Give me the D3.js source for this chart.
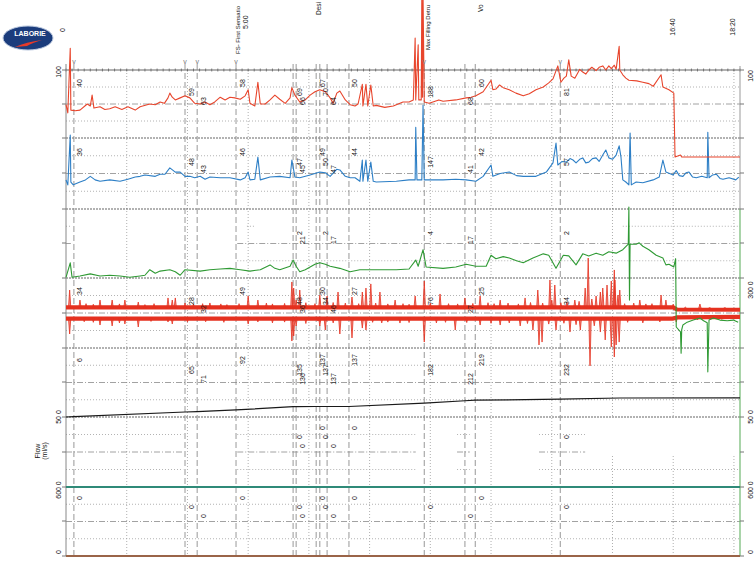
<!DOCTYPE html>
<html><head><meta charset="utf-8">
<script src="https://cdn.jsdelivr.net/npm/d3@7"></script>
<style>body{margin:0;background:#fff}svg{display:block}text{font-family:"Liberation Sans",Arial,sans-serif}</style>
</head><body><svg id="c" width="756" height="563"></svg>
<script>
// ---------- DATA ----------
const gridTimes = [100,200,300,400,500,600,700,800,900,1000,1100];
const timeLabelT = [0, 1000, 1100];
const timeLabelText = ["0", "16:40", "18:20"];
const eventTimes = [13,196,216,280,374,379,412,418,430,466,590,657,674,814];
const vMarkTimes = [13,196,216,280,590,814];
const ch1Labels = [40,59,63,58,69,66,67,70,64,50,188,68,60,81];
const ch2Labels = [36,48,43,46,47,45,49,50,47,44,147,41,42,57];
const ch3Labels = [null,null,null,null,2,21,null,2,17,null,4,17,null,2];
const ch4Labels = [34,28,32,49,48,36,30,34,46,27,76,27,25,34];
const ch5Labels = [6,65,71,92,135,136,137,137,137,137,182,212,219,232];
const ch6Labels = [null,null,null,null,0,0,0,0,0,0,null,null,null,0];
const ch7Labels = [0,0,0,0,0,0,0,0,0,0,0,0,0,0];
const noteTimes = [280, 280, 412, 590, 674];
const noteTexts = ["FS- First Sensatio", "5:00", "Desi", "Max Filling Detru", "Vo"];
const leftAxisText = ["100", "50 0", "600 0", "0"];
const rightAxisText = ["100", "300 0", "50 0", "600 0", "0"];

const pves = [[0,49],[3,37],[7,132],[8,41],[15,40],[23,41],[35,50],[40,47],[43,63],[46,44],[56,46],[64,42],[72,43],[81,46],[92,42],[102,46],[114,41],[122,46],[138,50],[147,49],[155,53],[162,51],[168,59],[171,66],[175,60],[180,56],[188,59],[196,62],[204,59],[212,51],[221,50],[229,53],[237,49],[245,53],[254,60],[262,56],[270,60],[278,59],[287,57],[295,62],[300,71],[303,51],[311,47],[316,82],[320,50],[328,50],[336,56],[344,63],[352,57],[361,51],[369,59],[372,74],[377,63],[385,53],[394,56],[402,63],[410,68],[418,71],[427,68],[435,59],[440,51],[446,66],[451,69],[460,56],[468,49],[476,47],[481,50],[488,79],[489,47],[494,79],[497,47],[502,78],[506,47],[511,48],[525,45],[539,47],[555,53],[565,53],[572,56],[575,147],[576,56],[580,137],[581,56],[585,56],[586,210],[587,60],[588,210],[590,53],[598,51],[614,56],[621,54],[642,56],[659,59],[667,60],[675,62],[687,68],[700,85],[703,71],[708,72],[714,78],[720,74],[730,71],[741,66],[753,62],[763,65],[774,71],[786,75],[795,81],[802,87],[810,106],[815,82],[820,88],[824,91],[828,115],[832,91],[838,88],[843,96],[846,101],[851,97],[856,94],[861,100],[866,104],[873,99],[878,104],[884,106],[889,100],[894,106],[898,102],[903,107],[906,101],[911,135],[912,100],[917,93],[922,88],[927,85],[940,84],[950,82],[960,80],[967,76],[980,93],[983,75],[993,71],[1001,66],[1003,-28],[1012,-25],[1014,-28],[1110,-28]];

const pabd = [[0,41],[3,34],[7,104],[8,38],[12,34],[23,38],[32,41],[40,46],[48,41],[56,39],[72,41],[89,39],[102,42],[114,45],[122,46],[130,48],[147,46],[155,49],[163,49],[171,58],[180,52],[188,52],[196,46],[204,46],[212,44],[221,46],[229,42],[237,45],[254,44],[270,44],[287,41],[295,44],[300,52],[303,41],[311,42],[316,73],[320,41],[336,45],[352,46],[369,44],[372,69],[377,45],[385,44],[402,48],[418,52],[427,51],[435,46],[446,56],[451,55],[460,46],[468,44],[476,44],[484,39],[488,69],[489,39],[494,69],[497,39],[502,66],[506,39],[511,38],[544,39],[565,41],[575,41],[576,115],[578,41],[586,41],[588,146],[590,41],[621,41],[642,42],[659,41],[675,39],[687,46],[700,62],[703,46],[715,50],[730,52],[742,47],[753,46],[774,46],[785,50],[791,52],[802,65],[807,93],[810,62],[817,67],[824,66],[830,71],[835,69],[840,65],[846,70],[851,72],[856,65],[861,66],[867,71],[873,72],[878,67],[884,76],[889,83],[894,72],[900,70],[906,76],[911,89],[914,73],[917,41],[922,38],[927,34],[929,107],[931,34],[939,38],[950,37],[967,41],[977,45],[983,69],[988,52],[1000,48],[1005,54],[1010,47],[1016,46],[1021,51],[1026,52],[1032,45],[1038,44],[1047,46],[1056,44],[1057,108],[1059,44],[1065,48],[1071,49],[1077,43],[1082,42],[1092,44],[1103,41],[1108,45]];

const pdet = [[0,1],[7,22],[10,1],[23,3],[40,6],[56,3],[72,4],[89,3],[105,1],[122,3],[130,4],[138,12],[147,7],[155,10],[171,12],[180,9],[188,4],[196,12],[221,10],[237,12],[254,13],[270,14],[287,12],[303,10],[320,12],[336,19],[344,14],[352,12],[369,17],[374,26],[379,17],[385,9],[394,12],[402,16],[410,20],[418,22],[427,20],[435,17],[451,14],[468,9],[484,12],[511,12],[544,12],[565,13],[576,26],[580,17],[588,41],[593,16],[621,14],[642,16],[659,20],[675,17],[692,17],[700,33],[708,28],[720,31],[730,29],[742,25],[753,22],[769,29],[786,35],[795,33],[807,14],[819,33],[828,32],[840,19],[851,35],[861,32],[873,36],[884,33],[894,38],[906,36],[917,41],[926,49],[927,103],[928,-32],[929,49],[939,49],[944,51],[950,46],[960,41],[972,33],[983,29],[988,19],[993,20],[1001,16],[1004,28],[1005,-71],[1012,-78],[1013,-109],[1014,-75],[1016,-68],[1023,-64],[1033,-61],[1044,-58],[1050,-62],[1056,-65],[1057,-136],[1059,-61],[1066,-58],[1077,-61],[1089,-62],[1099,-61],[1107,-64]];

// EMG: baseline envelope and individual spike peaks (upper and lower halves)
const emgUpperBase = [[0,48],[1000,48],[1006,30],[1110,28]];
const emgLowerBase = [[0,-48],[1000,-48],[1006,-38],[1110,-34]];
const emgUpperSpikes = [[6,197],[23,111],[33,80],[45,75],[56,111],[76,111],[88,78],[97,111],[119,94],[130,72],[145,80],[168,129],[175,111],[180,129],[196,86],[210,75],[225,80],[237,86],[255,78],[265,72],[285,80],[300,146],[316,111],[330,85],[340,78],[360,82],[372,266],[375,214],[379,111],[385,197],[395,88],[410,80],[418,154],[430,146],[440,90],[448,180],[460,85],[471,137],[482,80],[488,180],[494,214],[502,249],[510,85],[517,180],[530,78],[542,111],[555,80],[565,75],[575,146],[590,274],[600,85],[616,163],[630,80],[645,78],[657,129],[670,82],[682,146],[695,88],[705,80],[715,111],[728,85],[745,78],[756,129],[765,90],[777,197],[785,85],[797,283],[800,111],[805,240],[815,88],[825,95],[838,111],[845,100],[855,214],[860,471],[866,120],[873,146],[880,180],[884,214],[891,240],[898,274],[903,369],[904,283],[909,154],[912,197],[920,80],[935,85],[945,111],[955,78],[965,80],[980,154],[988,111],[1000,75],[1020,50],[1044,77],[1060,45],[1085,45]];
const emgLowerSpikes = [[6,-180],[30,-75],[45,-80],[56,-103],[76,-111],[88,-85],[97,-94],[119,-120],[140,-72],[168,-77],[175,-94],[200,-78],[230,-75],[260,-80],[300,-94],[316,-77],[340,-85],[360,-78],[372,-240],[375,-197],[379,-111],[395,-90],[415,-69],[418,-111],[427,-146],[440,-85],[451,-180],[471,-214],[488,-129],[494,-146],[505,-80],[520,-85],[530,-78],[550,-86],[565,-82],[590,-249],[610,-85],[625,-80],[641,-146],[660,-82],[682,-103],[700,-88],[715,-103],[730,-85],[748,-111],[760,-90],[769,-146],[779,-274],[784,-249],[795,-95],[807,-146],[820,-88],[830,-163],[840,-100],[847,-146],[863,-454],[870,-110],[880,-163],[888,-231],[898,-291],[903,-377],[906,-274],[911,-249],[925,-80],[950,-85],[978,-77],[1005,-77],[1040,-60],[1080,-55]];

const volume = [[0,0],[13,6],[196,65],[216,71],[280,92],[374,135],[379,136],[412,137],[430,137],[466,137],[590,182],[657,212],[674,219],[814,232],[912,248],[1110,250]];
const flow = [[0,0],[1110,0]];
const ch7Trace = [[0,0],[1110,0]];

// gridline segment overrides (seconds)
const ch3Seg = [[[0,8],[298,311],[917,1110]], [[0,8],[282,1110]], [[282,1110]]];
const ch6Seg = [[[0,193],[282,576],[644,665],[779,855]], [[0,193],[282,576],[644,665],[779,855]], [[0,193],[282,576],[644,665],[779,1110]]];

// ---------- LAYOUT ----------
const svg = d3.select("#c");
const x = d3.scaleLinear().domain([0,1110]).range([66,740]);
const tops = [70,138,209,278,348,417,487,556];
const yS = [
  d3.scaleLinear().domain([0,100]).range([138,70]),
  d3.scaleLinear().domain([0,100]).range([209,138]),
  d3.scaleLinear().domain([0,100]).range([278,209]),
  d3.scaleLinear().domain([-300,300]).range([348,278]),
  d3.scaleLinear().domain([0,900]).range([417,348]),
  d3.scaleLinear().domain([0,50]).range([487,417]),
  d3.scaleLinear().domain([0,600]).range([556,487])
];
const labelOff = [[13,22,31],[14,24,31],[15,24,31],[13,23,31],[12,22,31],[11,20,29],[11,20,29]];
const g = svg.append("g");

// vertical gridlines
gridTimes.forEach(t => {
  const segs = t >= 870 ? [[70,418],[456,556]] : [[70,556]];
  segs.forEach(s => g.append("line").attr("x1",x(t)).attr("x2",x(t)).attr("y1",s[0]).attr("y2",s[1])
    .attr("stroke","#9a9a9a").attr("stroke-width",0.8).attr("stroke-dasharray","1,2"));
});

// horizontal interior gridlines
for (let i = 0; i < 7; i++) {
  const t0 = tops[i], t1 = tops[i+1];
  [0.25,0.5,0.75].forEach((f,k) => {
    const y = t0 + f*(t1-t0);
    let segs = [[0,1110]];
    if (i === 2) segs = ch3Seg[k];
    if (i === 5) segs = ch6Seg[k];
    segs.forEach(s => g.append("line").attr("x1",x(s[0])).attr("x2",x(s[1])).attr("y1",y).attr("y2",y)
      .attr("stroke", k===1 ? "#8a8a8a" : "#a0a0a0").attr("stroke-width",0.8)
      .attr("stroke-dasharray", k===1 ? "6,2,1,2" : "1,2"));
  });
}
// channel boundaries
tops.slice(0,7).forEach((y,i) => {
  g.append("line").attr("x1",66).attr("x2",740).attr("y1",y).attr("y2",y)
    .attr("stroke","#666").attr("stroke-width",1.2).attr("stroke-dasharray", i===0 ? null : "2,1");
});
// top ticks
for (let t = 0; t <= 1110; t += 10) {
  g.append("line").attr("x1",x(t)).attr("x2",x(t)).attr("y1",68.5).attr("y2",71.5).attr("stroke","#555").attr("stroke-width",0.7);
}
// event lines
eventTimes.forEach(t => g.append("line").attr("x1",x(t)).attr("x2",x(t)).attr("y1",64).attr("y2",556)
  .attr("stroke","#8c8c8c").attr("stroke-width",0.9).attr("stroke-dasharray","6,3"));

// axes
g.append("line").attr("x1",66).attr("x2",66).attr("y1",64).attr("y2",556).attr("stroke","#888").attr("stroke-width",1);
g.append("line").attr("x1",740).attr("x2",740).attr("y1",66).attr("y2",209).attr("stroke","#999").attr("stroke-width",1);
g.append("line").attr("x1",740).attr("x2",740).attr("y1",209).attr("y2",556).attr("stroke","#6fb86f").attr("stroke-width",1.2);
[70,104,138,173,209,243,278,313,348,382,417,452,487,521,556].forEach(y => {
  g.append("line").attr("x1",62).attr("x2",66).attr("y1",y).attr("y2",y).attr("stroke","#777");
  g.append("line").attr("x1",740).attr("x2",744).attr("y1",y).attr("y2",y).attr("stroke","#777");
});

// traces
function trace(data, i, color, w) {
  const line = d3.line().x(d => x(d[0])).y(d => yS[i](d[1]));
  g.append("path").datum(data).attr("d", line).attr("fill","none").attr("stroke",color)
    .attr("stroke-width",w).attr("stroke-linejoin","round");
}
function emg(base, spikes, color, from) {
  trace(base, 3, color, 4.2);
  spikes.forEach(d => {
    g.append("path")
      .attr("d", `M${x(d[0]) - 1.2},${yS[3](from)} L${x(d[0])},${yS[3](d[1])} L${x(d[0]) + 1.2},${yS[3](from)} Z`)
      .attr("fill", color).attr("fill-opacity", 0.55).attr("stroke", color).attr("stroke-width", 0.8);
  });
}
trace(volume, 4, "#1a1a1a", 1.2);
trace(flow, 5, "#2f8a78", 2);
trace(ch7Trace, 6, "#9a6448", 2);
emg(emgUpperBase, emgUpperSpikes, "#e5311f", 40);
emg(emgLowerBase, emgLowerSpikes, "#e5311f", -40);
trace(pdet, 2, "#2f9a34", 1.1);
trace(pabd, 1, "#2d7fc6", 1.1);
trace(pves, 0, "#e8452c", 1.1);

// event value labels
const allLabels = [ch1Labels,ch2Labels,ch3Labels,ch4Labels,ch5Labels,ch6Labels,ch7Labels];
allLabels.forEach((arr, i) => {
  arr.forEach((v, j) => {
    if (v === null) return;
    const lx = x(eventTimes[j]) + 6, ly = tops[i] + labelOff[i][j % 3];
    g.append("text").attr("transform", `translate(${lx},${ly}) rotate(-90)`)
      .attr("text-anchor","middle").attr("dominant-baseline","central")
      .attr("font-size",7).attr("fill","#151515").text(v);
  });
});

// v markers
vMarkTimes.forEach(t => g.append("text").attr("x",x(t)).attr("y",64).attr("text-anchor","middle")
  .attr("font-size",7).attr("fill","#777").text("v"));

// event notes at top (visible part of the text, kept below the top edge)
const noteDx = [2, 9, 2, 4, 5];
const noteY = [54, 29, 15, 50, 12];
const noteSize = [6, 7, 6.5, 6, 6.5];
noteTexts.forEach((s, i) => {
  g.append("text").attr("transform", `translate(${x(noteTimes[i]) + noteDx[i]},${noteY[i]}) rotate(-90)`)
    .attr("dominant-baseline","central").attr("font-size",noteSize[i]).attr("fill","#111").text(s);
});

// time labels
timeLabelT.forEach((t, i) => {
  g.append("text").attr("transform", `translate(${x(t) - (i===0 ? 4 : 1)},${i===0 ? 30 : 27}) rotate(-90)`)
    .attr("text-anchor","middle").attr("dominant-baseline","central").attr("font-size",7).attr("fill","#111").text(timeLabelText[i]);
});

// axis value labels
const leftY = [72, 417, 490, 552];
leftAxisText.forEach((s, i) => g.append("text").attr("transform", `translate(58,${leftY[i]}) rotate(-90)`)
  .attr("text-anchor","middle").attr("dominant-baseline","central").attr("font-size",7).attr("fill","#111").text(s));
const rightY = [76, 290, 417, 490, 552];
rightAxisText.forEach((s, i) => g.append("text").attr("transform", `translate(750,${rightY[i]}) rotate(-90)`)
  .attr("text-anchor","middle").attr("dominant-baseline","central").attr("font-size",7).attr("fill","#111").text(s));
g.append("text").attr("transform","translate(37,451) rotate(-90)").attr("text-anchor","middle")
  .attr("dominant-baseline","central").attr("font-size",7).attr("fill","#111").text("Flow");
g.append("text").attr("transform","translate(44,451) rotate(-90)").attr("text-anchor","middle")
  .attr("dominant-baseline","central").attr("font-size",7).attr("fill","#111").text("(ml/s)");

// logo
const logo = svg.append("g");
logo.append("ellipse").attr("cx",28).attr("cy",38).attr("rx",25).attr("ry",12).attr("fill","#1b3c7c").attr("stroke","#b9c7de").attr("stroke-width",1);
logo.append("text").attr("x",30).attr("y",36).attr("text-anchor","middle").attr("font-size",7).attr("font-weight","bold").attr("fill","#fff").text("LABORIE");
logo.append("path").attr("d","M15,47 Q26,42 42,40 Q32,43 27,46 Z").attr("fill","#e63a2a");
</script></body></html>
